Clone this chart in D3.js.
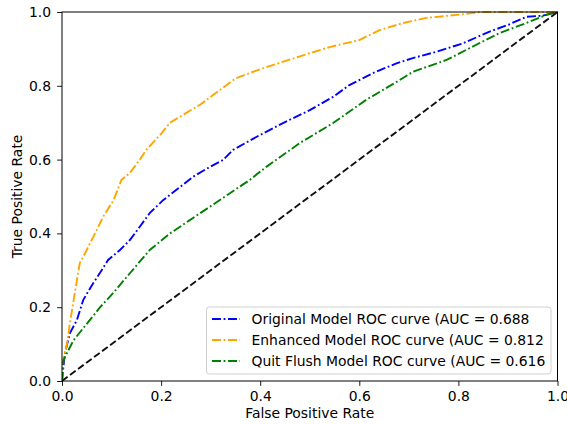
<!DOCTYPE html>
<html lang="en">
<head>
  <meta charset="UTF-8">
  <title>ROC curves</title>
  <script src="https://cdn.jsdelivr.net/npm/d3@7"></script>
  <style>
    body { margin: 0; background: #fff; }
    svg { font-family: "DejaVu Sans", sans-serif; }
  </style>
</head>
<body>
  <svg class="svg"></svg>
  <script>
    // [fpr, tpr] pairs
    const original = [
      [0, 0], [0.003, 0.04], [0.006, 0.076], [0.016, 0.13], [0.03, 0.165], [0.043, 0.22],
      [0.063, 0.265], [0.08, 0.3], [0.093, 0.328], [0.117, 0.355], [0.137, 0.382],
      [0.157, 0.418], [0.177, 0.455], [0.204, 0.49], [0.231, 0.518], [0.265, 0.554],
      [0.298, 0.58], [0.325, 0.599], [0.345, 0.626], [0.393, 0.662], [0.446, 0.699],
      [0.5, 0.734], [0.547, 0.77], [0.58, 0.802], [0.627, 0.834], [0.675, 0.861],
      [0.708, 0.875], [0.755, 0.892], [0.809, 0.915], [0.863, 0.947], [0.9, 0.965],
      [0.937, 0.987], [0.97, 0.99], [1, 1]
    ];
    const enhanced = [
      [0, 0], [0.003, 0.06], [0.01, 0.1], [0.016, 0.157], [0.026, 0.24], [0.036, 0.32],
      [0.043, 0.337], [0.063, 0.39], [0.083, 0.445], [0.104, 0.49], [0.12, 0.545],
      [0.137, 0.564], [0.157, 0.6], [0.17, 0.626], [0.2, 0.67], [0.218, 0.7],
      [0.28, 0.75], [0.35, 0.82], [0.4, 0.845], [0.48, 0.88], [0.54, 0.905],
      [0.6, 0.924], [0.641, 0.951], [0.688, 0.97], [0.735, 0.984], [0.78, 0.99],
      [0.817, 0.995], [0.843, 1], [1, 1]
    ];
    const quitFlush = [
      [0, 0], [0.003, 0.057], [0.023, 0.11], [0.05, 0.155], [0.077, 0.2], [0.103, 0.238],
      [0.137, 0.292], [0.177, 0.355], [0.218, 0.4], [0.258, 0.436], [0.298, 0.472],
      [0.339, 0.509], [0.379, 0.545], [0.413, 0.581], [0.48, 0.645], [0.547, 0.699],
      [0.614, 0.762], [0.681, 0.815], [0.708, 0.838], [0.776, 0.87], [0.843, 0.916],
      [0.883, 0.943], [0.937, 0.97], [0.977, 0.992], [1, 1]
    ];
    const chance = [[0, 0], [1, 1]];

    const seriesNames = [
      'Original Model ROC curve (AUC = 0.688',
      'Enhanced Model ROC curve (AUC = 0.812',
      'Quit Flush Model ROC curve (AUC = 0.616'
    ];
    const seriesColors = ['blue', 'orange', 'green'];
    const tickValues = [0, 0.2, 0.4, 0.6, 0.8, 1.0];

    const w = 567;
    const h = 425;
    const padLeft = 62, padTop = 12, padRight = 557.5, padBottom = 381;
    const fontSize = '13.9px';

    const xScale = d3.scaleLinear().domain([0, 1]).range([padLeft, padRight]);
    const yScale = d3.scaleLinear().domain([0, 1]).range([padBottom, padTop]);

    const svg = d3.select('.svg')
      .attr('width', w)
      .attr('height', h);

    const line = d3.line()
      .x(d => xScale(d[0]))
      .y(d => yScale(d[1]));

    svg.append('defs').append('clipPath').attr('id', 'clip')
      .append('rect')
      .attr('x', padLeft).attr('y', padTop - 2)
      .attr('width', padRight - padLeft + 2).attr('height', padBottom - padTop + 4);

    const plot = svg.append('g').attr('clip-path', 'url(#clip)');
    const dashDot = '9,2.6,1.8,2.6';

    [original, enhanced, quitFlush].forEach((data, i) => {
      plot.append('path')
        .datum(data)
        .attr('d', line)
        .attr('fill', 'none')
        .attr('stroke', seriesColors[i])
        .attr('stroke-width', 1.9)
        .attr('stroke-dasharray', dashDot);
    });

    plot.append('path')
      .datum(chance)
      .attr('d', line)
      .attr('fill', 'none')
      .attr('stroke', '#111')
      .attr('stroke-width', 1.9)
      .attr('stroke-dasharray', '7,3');

    const xAxis = d3.axisBottom(xScale).tickValues(tickValues)
      .tickFormat(d3.format('.1f')).tickSize(4.9).tickPadding(5.5);
    const yAxis = d3.axisLeft(yScale).tickValues(tickValues)
      .tickFormat(d3.format('.1f')).tickSize(4.9).tickPadding(6);

    const gx = svg.append('g')
      .attr('transform', 'translate(0,' + padBottom + ')')
      .call(xAxis);
    const gy = svg.append('g')
      .attr('transform', 'translate(' + padLeft + ',0)')
      .call(yAxis);

    [gx, gy].forEach(g => {
      g.select('.domain').remove();
      g.selectAll('text')
        .attr('font-size', fontSize)
        .attr('fill', '#000')
        .attr('font-family', '"DejaVu Sans", sans-serif');
      g.selectAll('line').attr('stroke', '#000').attr('stroke-width', 0.9);
    });

    // frame
    svg.append('rect')
      .attr('x', padLeft).attr('y', padTop)
      .attr('width', padRight - padLeft).attr('height', padBottom - padTop)
      .attr('fill', 'none')
      .attr('stroke', '#000')
      .attr('stroke-width', 1);

    svg.append('text')
      .attr('x', (padLeft + padRight) / 2)
      .attr('y', 418)
      .attr('text-anchor', 'middle')
      .attr('font-size', fontSize)
      .text('False Positive Rate');

    svg.append('text')
      .attr('transform', 'translate(21.5,' + ((padTop + padBottom) / 2) + ') rotate(-90)')
      .attr('text-anchor', 'middle')
      .attr('font-size', fontSize)
      .text('True Positive Rate');

    // legend
    const legend = svg.append('g');
    legend.append('rect')
      .attr('x', 206.5).attr('y', 307)
      .attr('width', 344.5).attr('height', 67)
      .attr('rx', 3)
      .attr('fill', 'rgba(255,255,255,0.8)')
      .attr('stroke', '#d0d0d0')
      .attr('stroke-width', 1);

    seriesNames.forEach((name, i) => {
      const y = 319 + i * 21;
      legend.append('line')
        .attr('x1', 212).attr('x2', 240)
        .attr('y1', y).attr('y2', y)
        .attr('stroke', seriesColors[i])
        .attr('stroke-width', 1.9)
        .attr('stroke-dasharray', dashDot);
      legend.append('text')
        .attr('x', 251.5)
        .attr('y', y + 5)
        .attr('font-size', fontSize)
        .text(name);
    });
  </script>
</body>
</html>
